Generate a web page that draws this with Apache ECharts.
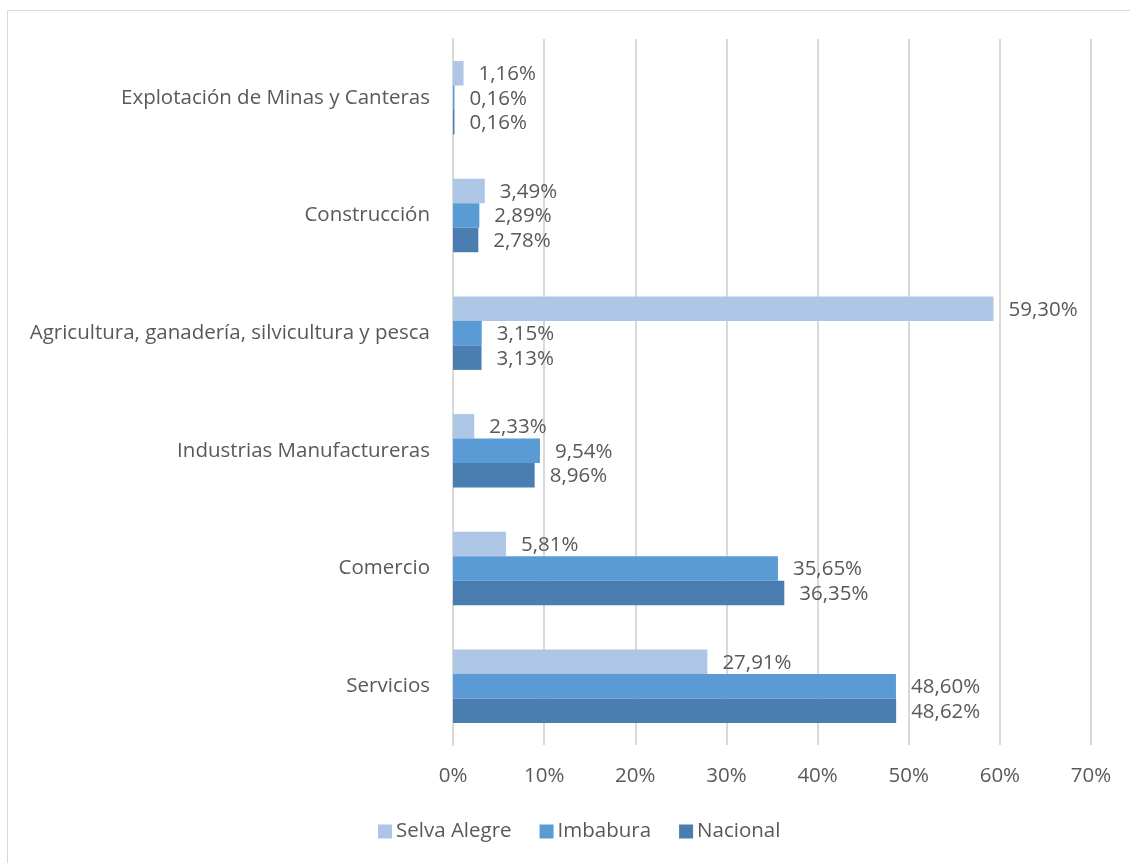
<!DOCTYPE html>
<html>
<head>
<meta charset="utf-8">
<script src="https://cdn.jsdelivr.net/npm/echarts@6/dist/echarts.min.js"></script>
<style>
html,body{margin:0;padding:0;background:#fff;}
#chart{width:1130px;height:863px;}
</style>
</head>
<body>
<div id="chart"></div>
<script>
const categories = ["Servicios", "Comercio", "Industrias Manufactureras", "Agricultura, ganadería, silvicultura y pesca", "Construcción", "Explotación de Minas y Canteras"];
const selvaAlegre = [27.91, 5.81, 2.33, 59.30, 3.49, 1.16];
const imbabura = [48.60, 35.65, 9.54, 3.15, 2.89, 0.16];
const nacional = [48.62, 36.35, 8.96, 3.13, 2.78, 0.16];
const xTicks = [0, 10, 20, 30, 40, 50, 60, 70];

const FONT = "'Open Sans', 'Noto Sans', sans-serif";
const FS = 20.5;
const TXT = '#595959';
const fmt = v => v.toFixed(2).replace('.', ',') + '%';

function mk(name, data, color) {
  return {
    name: name, type: 'bar', data: data, barWidth: 24.5, barGap: '0%',
    itemStyle: { color: color },
    label: { show: true, position: 'right', distance: 15, color: TXT, fontSize: FS, fontFamily: FONT,
      offset: [0, 1], formatter: p => fmt(p.value) },
    emphasis: { disabled: true }
  };
}

const chart = echarts.init(document.getElementById('chart'), null, { renderer: 'canvas' });
chart.setOption({
  animation: false,
  backgroundColor: '#fff',
  graphic: [{ type: 'rect', shape: { x: 7.5, y: 10.5, width: 1200, height: 1000 }, style: { fill: 'none', stroke: '#d9d9d9', lineWidth: 1 }, silent: true }],
  grid: { left: 453, right: 39, top: 39, bottom: 118 },
  legend: {
    data: ['Selva Alegre', 'Imbabura', 'Nacional'],
    bottom: 16, left: 373, itemWidth: 14, itemHeight: 14, itemGap: 28, icon: 'rect',
    textStyle: { color: TXT, fontSize: FS, fontFamily: FONT, padding: [0, 0, 0, -1] }
  },
  xAxis: {
    type: 'value', min: 0, max: 70, interval: 10,
    axisLine: { show: false }, axisTick: { show: false },
    splitLine: { show: true, lineStyle: { color: '#d9d9d9', width: 2 } },
    axisLabel: { color: TXT, fontSize: FS, fontFamily: FONT, margin: 21,
      formatter: v => xTicks.indexOf(v) >= 0 ? v + '%' : '' }
  },
  yAxis: {
    type: 'category', data: categories,
    axisLine: { show: true, lineStyle: { color: '#d9d9d9', width: 2 } },
    axisTick: { show: false },
    axisLabel: { color: TXT, fontSize: FS, fontFamily: FONT, margin: 23 }
  },
  series: [
    mk('Selva Alegre', selvaAlegre, '#aec6e5'),
    mk('Imbabura', imbabura, '#5b9bd5'),
    mk('Nacional', nacional, '#4a7eb0')
  ]
});
</script>
</body>
</html>
